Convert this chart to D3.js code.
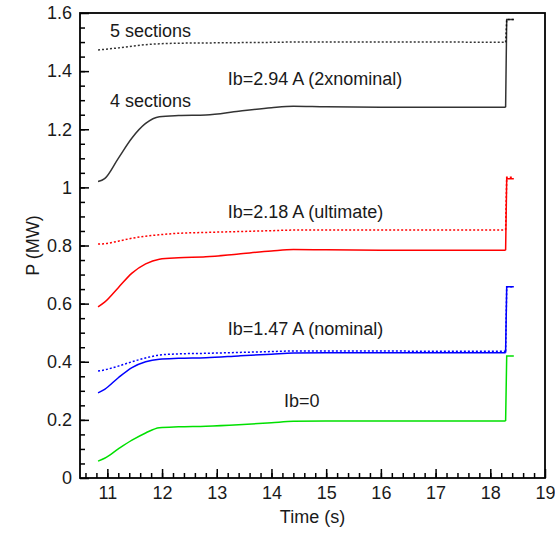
<!DOCTYPE html>
<html>
<head>
<meta charset="utf-8">
<script src="https://cdn.jsdelivr.net/npm/d3@7"></script>
<style>
  body { margin: 0; background: #fff; }
  svg text { font-family: "Liberation Sans", Arial, sans-serif; fill: #1a1a1a; }
</style>
</head>
<body>
<div id="chart"></div>
<script>
// 1 - Données
const temps = [10.83, 10.95, 11.2, 11.45, 11.7, 11.95, 12.3, 12.8, 13.4, 14.0, 14.4, 15, 16, 17, 18.28];

// P (MW) pour chaque courbe
const noir4 = [1.02, 1.03, 1.10, 1.17, 1.22, 1.243, 1.247, 1.249, 1.262, 1.274, 1.279, 1.277, 1.276, 1.276, 1.276];
const noir5 = [1.473, 1.475, 1.480, 1.486, 1.491, 1.494, 1.496, 1.497, 1.498, 1.499, 1.500, 1.500, 1.500, 1.500, 1.499];
const rouge = [0.589, 0.605, 0.655, 0.705, 0.737, 0.753, 0.758, 0.761, 0.771, 0.781, 0.786, 0.785, 0.784, 0.784, 0.784];
const rougePt = [0.805, 0.806, 0.815, 0.825, 0.832, 0.837, 0.842, 0.845, 0.848, 0.851, 0.853, 0.853, 0.853, 0.853, 0.853];
const bleu = [0.293, 0.305, 0.345, 0.38, 0.40, 0.409, 0.412, 0.414, 0.420, 0.426, 0.430, 0.431, 0.431, 0.431, 0.431];
const bleuPt = [0.368, 0.372, 0.385, 0.400, 0.413, 0.423, 0.427, 0.429, 0.432, 0.435, 0.437, 0.437, 0.437, 0.436, 0.436];
const vert = [0.058, 0.068, 0.10, 0.13, 0.155, 0.173, 0.176, 0.178, 0.183, 0.190, 0.195, 0.196, 0.196, 0.196, 0.196];

// saut final à t = 18.3 s
const tempsSaut = [18.28, 18.30, 18.43];
const hautSaut = { noir4: 1.578, noir5: 1.578, rouge: 1.03, rougePt: 1.035, bleu: 0.658, bleuPt: 0.658, vert: 0.42 };

const series = [
  { nom: "noir4", valeurs: noir4, couleur: "#000000", pointille: false },
  { nom: "noir5", valeurs: noir5, couleur: "#000000", pointille: true },
  { nom: "rouge", valeurs: rouge, couleur: "#ff0000", pointille: false },
  { nom: "rougePt", valeurs: rougePt, couleur: "#ff0000", pointille: true },
  { nom: "vert", valeurs: vert, couleur: "#00e000", pointille: false },
  { nom: "bleu", valeurs: bleu, couleur: "#0000ff", pointille: false },
  { nom: "bleuPt", valeurs: bleuPt, couleur: "#0000ff", pointille: true }
];

const annotations = [
  { texte: "5 sections", t: 11.05, p: 1.517 },
  { texte: "Ib=2.94 A (2xnominal)", t: 13.2, p: 1.352 },
  { texte: "4 sections", t: 11.05, p: 1.277 },
  { texte: "Ib=2.18 A (ultimate)", t: 13.2, p: 0.895 },
  { texte: "Ib=1.47 A (nominal)", t: 13.2, p: 0.493 },
  { texte: "Ib=0", t: 14.23, p: 0.245 }
];

const ticksX = d3.range(11, 20, 1);
const ticksY = [0, 0.2, 0.4, 0.6, 0.8, 1, 1.2, 1.4, 1.6];

// 2 - Dessin
const largeur = 555, hauteur = 535;
const marge = { haut: 13, droite: 10, bas: 57, gauche: 80 };

const svg = d3.select("#chart").append("svg")
  .attr("width", largeur)
  .attr("height", hauteur);

const x = d3.scaleLinear().domain([10.5, 19]).range([marge.gauche, largeur - marge.droite]);
const y = d3.scaleLinear().domain([0, 1.6]).range([hauteur - marge.bas, marge.haut]);

// 2.1 - Axes (graduations vers l'intérieur)
const axeX = svg.append("g")
  .attr("transform", `translate(0,${y(0)})`)
  .call(d3.axisBottom(x).tickValues(ticksX).tickSizeInner(-9).tickSizeOuter(0).tickPadding(8).tickFormat(d3.format("d")));

svg.append("g")
  .attr("transform", `translate(0,${y(0)})`)
  .call(d3.axisBottom(x).tickValues(d3.range(10.6, 19, 0.2)).tickSizeInner(-5).tickSizeOuter(0).tickFormat(""));

const axeY = svg.append("g")
  .attr("transform", `translate(${x(10.5)},0)`)
  .call(d3.axisLeft(y).tickValues(ticksY).tickSizeInner(-9).tickSizeOuter(0).tickPadding(8).tickFormat(d => d));

svg.append("g")
  .attr("transform", `translate(${x(10.5)},0)`)
  .call(d3.axisLeft(y).tickValues(d3.range(0.05, 1.6, 0.05)).tickSizeInner(-5).tickSizeOuter(0).tickFormat(""));

svg.selectAll(".domain").remove();
svg.selectAll(".tick line").attr("stroke", "#000").attr("stroke-width", 1.5);
svg.selectAll(".tick text").style("font-size", "18px");

// cadre
svg.append("rect")
  .attr("x", x(10.5))
  .attr("y", y(1.6))
  .attr("width", x(19) - x(10.5))
  .attr("height", y(0) - y(1.6))
  .attr("fill", "none")
  .attr("stroke", "#000")
  .attr("stroke-width", 1.8);

// 2.2 - Courbes
const ligne = d3.line()
  .x(d => x(d[0]))
  .y(d => y(d[1]))
  .curve(d3.curveMonotoneX);

const ligneSaut = d3.line()
  .x(d => x(d[0]))
  .y(d => y(d[1]));

series.forEach((s) => {
  const pts = temps.map((t, i) => [t, s.valeurs[i]]);
  const fin = s.valeurs[s.valeurs.length - 1];
  const saut = [[tempsSaut[0], fin], [tempsSaut[1], hautSaut[s.nom]], [tempsSaut[2], hautSaut[s.nom]]];

  [ligne(pts), ligneSaut(saut)].forEach((dd) => {
    svg.append("path")
      .attr("d", dd)
      .attr("fill", "none")
      .attr("stroke", s.couleur)
      .attr("stroke-width", 1.5)
      .attr("stroke-dasharray", s.pointille ? "2,2" : null)
      .attr("opacity", s.nom.startsWith("noir") ? 0.8 : 1);
  });
});

// 2.3 - Textes
svg.selectAll(".annot")
  .data(annotations)
  .enter()
  .append("text")
  .attr("x", d => x(d.t))
  .attr("y", d => y(d.p))
  .style("font-size", "18px")
  .text(d => d.texte);

svg.append("text")
  .attr("x", (x(10.5) + x(19)) / 2)
  .attr("y", 523)
  .attr("text-anchor", "middle")
  .style("font-size", "18px")
  .text("Time (s)");

svg.append("text")
  .attr("transform", `translate(39,${(y(0) + y(1.6)) / 2}) rotate(-90)`)
  .attr("text-anchor", "middle")
  .style("font-size", "18px")
  .text("P (MW)");
</script>
</body>
</html>
